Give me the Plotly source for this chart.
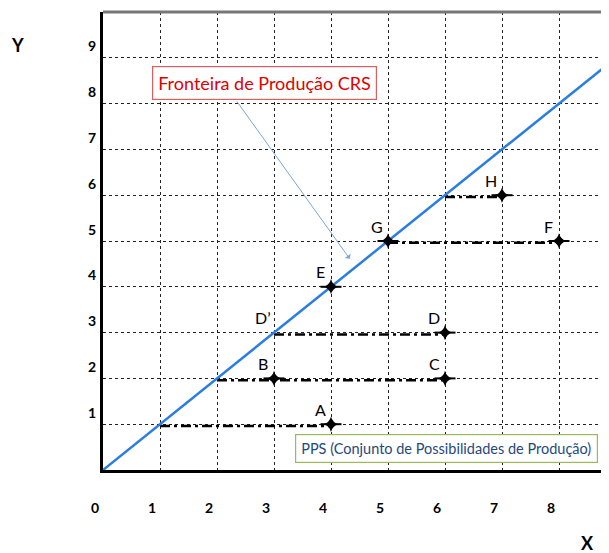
import plotly.graph_objects as go

# Data
ticks = list(range(0, 10))
tick_labels = [str(t) for t in ticks]
frontier_x = [0, 9.2]
frontier_y = [0, 9.2]
pt_names = ["A", "B", "C", "D", "D\u2019", "E", "G", "F", "H"]
pt_x = [4, 3, 6, 6, 3, 4, 5, 8, 7]
pt_y = [1, 2, 2, 3, 3, 4, 5, 5, 6]
marked = ["A", "B", "C", "D", "E", "G", "F", "H"]
# horizontal dash-dot segments: (x_start, x_end, y)
seg_x0 = [1, 2, 3, 5, 6]
seg_x1 = [4, 6, 6, 8, 7]
seg_y = [1, 2, 3, 5, 6]

W, H = 609, 553
L, R, T, B = 95, 0, 4, 91
pw, ph = W - L - R, H - T - B
X_MAX = pw / 57.0
OFF = 8  # page body offset


def px2paper(px, py):
    # page pixel -> paper coords
    return (px - OFF - L) / pw, (H - B - (py - OFF)) / ph


fig = go.Figure()

# dash-dot segments
for x0, x1, y in zip(seg_x0, seg_x1, seg_y):
    fig.add_trace(go.Scatter(x=[x0, x1], y=[y - 0.04, y - 0.04], mode="lines",
                             line=dict(color="black", width=2.5, dash="10px,4px,3px,4px"),
                             hoverinfo="skip", showlegend=False))

# frontier
fig.add_trace(go.Scatter(x=frontier_x, y=frontier_y, mode="lines",
                         line=dict(color="#2a7de1", width=2.5), showlegend=False))

# markers
mx = [x for n, x in zip(pt_names, pt_x) if n in marked]
my = [y for n, y in zip(pt_names, pt_y) if n in marked]
fig.add_trace(go.Scatter(x=mx, y=my, mode="markers",
                         marker=dict(symbol="star-diamond", size=11, color="black"),
                         showlegend=False))
fig.add_trace(go.Scatter(x=mx, y=my, mode="markers",
                         marker=dict(symbol="line-ew", size=15, color="black",
                                     line=dict(color="black", width=2)),
                         showlegend=False))

ann = []
for n, x, y in zip(pt_names, pt_x, pt_y):
    ann.append(dict(x=x, y=y, xref="x", yref="y", text=n, showarrow=False,
                    xanchor="center", yanchor="middle",
                    xshift=-11, yshift=15, font=dict(family="Lato", size=16, color="black")))

# x tick labels
for t, lab in zip(ticks, tick_labels):
    ann.append(dict(x=t / X_MAX, y=0, xref="paper", yref="paper", text="<b>" + lab + "</b>",
                    showarrow=False, xanchor="center", yanchor="middle", xshift=-8, yshift=-37,
                    font=dict(family="Lato", size=14, color="black")))
# y tick labels
for t, lab in zip(ticks[1:], tick_labels[1:]):
    ann.append(dict(x=0, y=t, xref="paper", yref="y", text="<b>" + lab + "</b>",
                    showarrow=False, xanchor="right", yanchor="middle", xshift=-5, yshift=12,
                    font=dict(family="Lato", size=14, color="black")))

# axis titles
yx, yy = px2paper(17, 45)
ann.append(dict(x=yx, y=yy, xref="paper", yref="paper", text="<b>Y</b>", showarrow=False,
                xanchor="center", yanchor="middle",
                font=dict(family="Lato", size=18, color="black")))
xx, xy = px2paper(587, 543)
ann.append(dict(x=xx, y=xy, xref="paper", yref="paper", text="<b>X</b>", showarrow=False,
                xanchor="center", yanchor="middle",
                font=dict(family="Lato", size=18, color="black")))

# arrow
ann.append(dict(x=4.33, y=4.61, ax=2.33, ay=8.08, xref="x", yref="y", axref="x", ayref="y",
                text="", showarrow=True, arrowhead=1, arrowsize=1.2, arrowwidth=1,
                arrowcolor="#7aa5d8"))
# boxes
ann.append(dict(x=2.83, y=8.46, xref="x", yref="y", text="Fronteira de Produção CRS",
                showarrow=False, xanchor="center", yanchor="middle",
                bgcolor="white", bordercolor="#d96060", borderwidth=1.2,
                borderpad=5, font=dict(family="Lato", size=18, color="#e00000")))
ann.append(dict(x=6.02, y=0.48, xref="x", yref="y", text="PPS (Conjunto de Possibilidades de Produção)",
                showarrow=False, xanchor="center", yanchor="middle",
                bgcolor="white", bordercolor="#9bbb59", borderwidth=1.2,
                borderpad=5, font=dict(family="Lato", size=14.5, color="#1f497d")))

fig.update_layout(
    width=W, height=H, margin=dict(l=L, r=R, t=T, b=B),
    plot_bgcolor="white", paper_bgcolor="white",
    annotations=ann,
    shapes=[dict(type="line", xref="paper", yref="paper", x0=0, x1=1, y0=1, y1=1,
                 line=dict(color="#777777", width=3))],
)
fig.update_xaxes(range=[0, X_MAX], tickvals=ticks, showticklabels=False, showgrid=True,
                 gridcolor="#222222", griddash="dot", gridwidth=1, zeroline=False,
                 showline=True, linecolor="black", linewidth=3)
fig.update_yaxes(range=[0, 10], tickvals=ticks, showticklabels=False, showgrid=True,
                 gridcolor="#222222", griddash="dot", gridwidth=1, zeroline=False,
                 showline=True, linecolor="black", linewidth=3)

fig.write_html("out.html")
